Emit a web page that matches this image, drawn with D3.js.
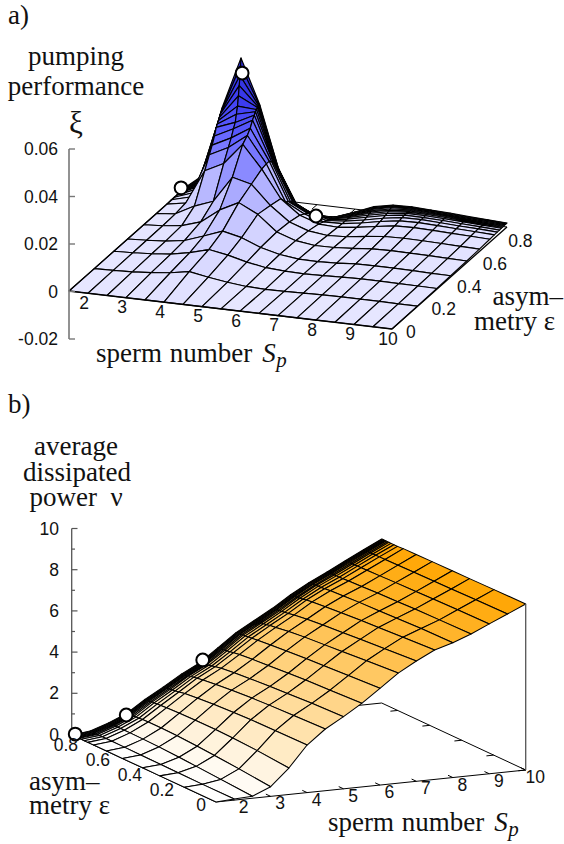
<!DOCTYPE html>
<html><head><meta charset="utf-8">
<script src="https://cdnjs.cloudflare.com/ajax/libs/d3/7.8.5/d3.min.js"></script>
<style>html,body{margin:0;padding:0;background:#fff}svg{display:block}text{white-space:pre}</style></head>
<body><svg id="c" width="564" height="844"></svg>
<script>
const spermValues=[1.5,2,2.5,3,3.5,4,4.5,5,5.5,6,6.5,7,7.5,8,8.5,9,9.5,10];
const asymValues=[0,.198,.351,.459,.585,.684,.765,.801,.8235,.8415,.855,.864,.873,.88,.8865,.892,.8964,.9];
const spTicks=[2,3,4,5,6,7,8,9,10];
const epsTicks=[0,.2,.4,.6,.8];
const xiTicks=[-.02,0,.02,.04,.06];
const xiTickLabels=['-0.02','0','0.02','0.04','0.06'];
const nuTicks=[0,2,4,6,8,10];
const nuMinor=[1,3,5,7,9];
const pumping=[
[0,0,0,0,0,0,0,0,0,0,0,0,0,0,0,0,0,0],
[0,.2,.5,1.1,2,3.4,2,.8,0,-.3,-.2,0,.2,.3,.3,.3,.2,.2],
[0,.3,.8,1.6,3.2,5.4,4,2,.6,.1,-.1,.1,.4,.6,.6,.5,.4,.3],
[0,.4,1,2.2,5,8,6.2,3,1,0,-.1,.2,.8,.9,.9,.8,.6,.5],
[0,.5,1.5,4,10,14,10,3.5,.8,-.3,-.2,.4,1.1,1.3,1.2,1.1,.9,.7],
[0,.8,5,8,19,17,9,3,.2,-.8,-.4,.7,1.6,1.8,1.7,1.5,1.2,1],
[.1,1.5,16,20,29,19.5,8,2,-.8,-1.2,-.3,1,2.2,2.4,2.2,1.9,1.6,1.3],
[.2,2.3,21,25,31,20,5,.8,-1.6,-1.4,-.2,1.4,2.6,2.8,2.5,2.1,1.8,1.4],
[.2,3,24,28,33,20,4,0,-2.1,-1.4,0,1.7,2.9,3,2.6,2.2,1.9,1.5],
[.2,3.5,27,31,35.5,19,3,-.8,-2.5,-1.4,.3,2,3.1,3,2.7,2.3,1.9,1.5],
[.2,4,30,33,37,18,2.5,-1.5,-2.8,-1.4,.5,2.2,3.2,3.1,2.8,2.4,2,1.6],
[.3,4.4,31,36,38,17,2,-2.2,-3,-1.3,.8,2.5,3.3,3.2,2.9,2.4,2,1.6],
[.3,4.8,32,39,38.5,16,1,-2.8,-3.3,-1.3,1,2.7,3.4,3.2,2.9,2.4,2,1.6],
[.3,5,33,43,39,15.5,.3,-3.3,-3.5,-1.3,1.2,2.9,3.5,3.3,2.9,2.5,2,1.7],
[.3,5.5,34,47,39,15,-.5,-3.8,-3.8,-1.2,1.5,3.2,3.6,3.3,3,2.5,2.1,1.7],
[.3,5.8,34.5,51,39,14,-1,-4.2,-3.9,-1.2,1.7,3.3,3.7,3.4,3,2.5,2.1,1.7],
[.3,6.2,35,55,39,13.3,-1.5,-4.6,-4.1,-1.2,1.9,3.5,3.8,3.4,3,2.5,2.1,1.7],
[.3,6.7,36,58,39,12.6,-2,-5,-4.2,-1.2,2,3.6,3.8,3.4,3,2.5,2.1,1.7]];
const power=[
[0,.05,.1,.47,1.29,2.32,3.01,3.52,4.08,4.72,5.37,5.87,6.31,6.57,6.91,7.31,7.7,8.1],
[0,.05,.2,.62,1.42,2.3,2.95,3.45,4,4.62,5.25,5.75,6.22,6.55,6.88,7.28,7.68,8.08],
[0,.06,.28,.72,1.48,2.28,2.9,3.38,3.94,4.55,5.15,5.65,6.14,6.5,6.85,7.25,7.65,8.06],
[0,.07,.33,.78,1.5,2.24,2.85,3.33,3.88,4.5,5.08,5.58,6.08,6.46,6.82,7.22,7.63,8.05],
[0,.08,.38,.83,1.5,2.18,2.78,3.25,3.8,4.42,5,5.5,6,6.42,6.78,7.2,7.61,8.04],
[0,.09,.4,.85,1.48,2.12,2.7,3.18,3.74,4.35,4.92,5.42,5.94,6.37,6.74,7.17,7.6,8.03],
[0,.09,.41,.85,1.45,2.05,2.62,3.1,3.68,4.28,4.82,5.33,5.88,6.33,6.72,7.15,7.58,8.02],
[0,.1,.41,.84,1.43,2,2.58,3.05,3.64,4.25,4.78,5.28,5.84,6.3,6.7,7.14,7.58,8],
[0,.1,.41,.82,1.42,1.97,2.54,3,3.6,4.23,4.74,5.25,5.8,6.28,6.69,7.14,7.58,8],
[0,.1,.41,.81,1.41,1.95,2.51,2.97,3.58,4.22,4.72,5.23,5.78,6.27,6.69,7.13,7.57,8],
[0,.1,.41,.8,1.4,1.93,2.49,2.95,3.56,4.21,4.71,5.21,5.76,6.26,6.68,7.13,7.57,8],
[0,.1,.41,.8,1.39,1.92,2.47,2.93,3.55,4.2,4.7,5.2,5.75,6.25,6.68,7.13,7.57,8],
[0,.1,.4,.79,1.38,1.91,2.46,2.92,3.54,4.19,4.69,5.19,5.75,6.25,6.68,7.13,7.57,8],
[0,.1,.4,.79,1.38,1.9,2.45,2.91,3.54,4.18,4.68,5.18,5.74,6.24,6.68,7.13,7.57,8],
[0,.1,.4,.78,1.37,1.89,2.44,2.9,3.53,4.18,4.68,5.18,5.74,6.24,6.67,7.12,7.57,8],
[0,.1,.4,.78,1.37,1.89,2.43,2.89,3.53,4.17,4.67,5.18,5.74,6.24,6.67,7.12,7.57,8],
[0,.1,.4,.78,1.37,1.88,2.42,2.88,3.52,4.17,4.67,5.17,5.74,6.24,6.67,7.12,7.57,8],
[0,.1,.4,.78,1.37,1.87,2.42,2.87,3.52,4.17,4.67,5.17,5.74,6.24,6.67,7.12,7.57,8]];
const pumpingMarks=[[1.5,.877,1.6],[3.03,.9,51.7],[5,.892,-4.4]];
const powerMarks=[[1.5,.88,.12],[2.9,.88,.79],[5,.88,3.09]];

const svg=d3.select('#c');
const SERIF='"Liberation Serif","Times New Roman",serif', SANS='"Liberation Sans",Arial,sans-serif';
function mk(o){
  const spx=d3.scaleLinear([1.5,10],[0,o.sx]), spy=d3.scaleLinear([1.5,10],[0,o.sy]);
  const ex=d3.scaleLinear([0,.9],[0,o.ex]), ey=d3.scaleLinear([0,.9],[0,o.ey]);
  const zy=d3.scaleLinear([0,o.zTop],[0,o.zPx]);
  return (s,e,z=0)=>[o.x0+spx(s)+ex(e), o.y0+spy(s)+ey(e)-zy(z)];
}
function surface(g,P,Z,color,spOrder,w){
  const cells=[];
  for(let r=Z.length-2;r>=0;r--) for(const c of spOrder) cells.push([r,c]);
  g.selectAll('path.cell').data(cells).join('path').attr('class','cell')
   .attr('d',([r,c])=>d3.line()([[c,r],[c+1,r],[c+1,r+1],[c,r+1]].map(([i,j])=>P(spermValues[i],asymValues[j],Z[j][i])))+'Z')
   .attr('fill',([r,c])=>color((Z[r][c]+Z[r][c+1]+Z[r+1][c]+Z[r+1][c+1])/4))
   .attr('stroke','#000').attr('stroke-width',w).attr('stroke-linejoin','round');
}
function seg(g,a,b,col='#000',w=1){g.append('line').attr('x1',a[0]).attr('y1',a[1]).attr('x2',b[0]).attr('y2',b[1]).attr('stroke',col).attr('stroke-width',w);}
function txt(s,x,y,size,fam,anchor='start'){return svg.append('text').attr('x',x).attr('y',y).attr('font-size',size).attr('font-family',fam).attr('text-anchor',anchor).attr('fill','#111').text(s);}
function spLabel(x,y){
  const t=txt('sperm number',x,y,27,SERIF).attr('word-spacing',1);
  const w=t.node().getComputedTextLength();
  txt('S',x+w+10,y,27,SERIF).attr('font-style','italic');
  txt('p',x+w+24,y+5,21,SERIF).attr('font-style','italic');
}
function marks(g,P,M){M.forEach(([s,e,z])=>{const p=P(s,e,z);g.append('circle').attr('cx',p[0]).attr('cy',p[1]).attr('r',6.4).attr('fill','#fff').attr('stroke','#000').attr('stroke-width',2);});}
const cols=d3.range(spermValues.length-1);

// panel a
const gA=svg.append('g');
const Pa=mk({x0:69,y0:291,sx:323,sy:38,ex:115,ey:-102,zTop:60,zPx:142.5});
const zA=d3.scaleLinear([-5,0,10,20,30,40,60],['#eeeeff','#e6e6ff','#c4c4ff','#9090ff','#5c5cff','#3c3cf0','#1818a8']);
seg(gA,Pa(1.5,.9),Pa(10,.9));
[5,6,7,8,9].forEach(s=>seg(gA,Pa(s,.9),Pa(s,.86)));
surface(gA,Pa,pumping,zA,cols,1.15);
seg(gA,Pa(1.5,0),Pa(10,0),'#000',1.3);
seg(gA,Pa(10,0),Pa(10,.9),'#000',1.3);
seg(gA,Pa(1.5,0),Pa(1.5,.9),'#000',1.2);
const zaxA=d3.scaleLinear([-.02,.06],[339,149]);
seg(gA,[69,zaxA(-.02)],[69,zaxA(.06)],'#777',1.6);
xiTicks.forEach((t,i)=>{seg(gA,[69,zaxA(t)],[75,zaxA(t)],'#777',1.4);
  txt(xiTickLabels[i],58,zaxA(t)+6,17.5,SANS,'end');});
spTicks.forEach(s=>{const p=Pa(s,0);txt(s,p[0]-4,p[1]+15.5,17.5,SANS,'middle');});
epsTicks.forEach(e=>{const p=Pa(10,e);txt(e,p[0]+14,p[1]+9,17.5,SANS,'start');});
marks(gA,Pa,pumpingMarks);
txt('a)',8,24,27,SERIF);
txt('pumping',76,65,27,SERIF,'middle');
txt('performance',76,95,27,SERIF,'middle');
txt('ξ',76,133,31,SERIF,'middle');
spLabel(96,362);
txt('asym–',563,305,27,SERIF,'end');
txt('metry ε',555,330,27,SERIF,'end');

// panel b
const gB=svg.append('g');
const Pb=mk({x0:216,y0:802,sx:309.7,sy:-32,ex:-144,ey:-67,zTop:10,zPx:205});
const zB=d3.scaleLinear([0,8.1],['#ffffff','#ffa500']);
seg(gB,Pb(1.5,.9),Pb(10,.9));
seg(gB,Pb(10,0),Pb(10,.9));
seg(gB,Pb(1.5,0),Pb(10,0));
seg(gB,Pb(1.5,0),Pb(1.5,.9));
spTicks.forEach(s=>seg(gB,Pb(s,0),Pb(s,.03)));
epsTicks.forEach(e=>seg(gB,Pb(10,e),Pb(9.8,e)));
surface(gB,Pb,power,zB,cols.slice().reverse(),1.05);
const zaxB=d3.scaleLinear([0,10],[734.5,528.5]);
seg(gB,[71.7,zaxB(0)],[71.7,zaxB(10)],'#555',1.3);
nuTicks.forEach(t=>{seg(gB,[71.7,zaxB(t)],[77.5,zaxB(t)],'#555',1.2);txt(t,59,zaxB(t)+6,17.5,SANS,'end');});
nuMinor.forEach(t=>seg(gB,[71.7,zaxB(t)],[75,zaxB(t)],'#555',1.2));
seg(gB,Pb(10,0),Pb(10,0,8.1),'#555',1.3);
spTicks.forEach(s=>{const p=Pb(s,0);txt(s,p[0]+9.5,p[1]+13,17.5,SANS,'middle');});
epsTicks.forEach(e=>{const p=Pb(1.5,e);txt(e,p[0]-10,p[1]+9,17.5,SANS,'end');});
marks(gB,Pb,powerMarks);
txt('b)',8,413,27,SERIF);
txt('average',76,455,27,SERIF,'middle');
txt('dissipated',77,481,27,SERIF,'middle');
txt('power  ν',76,506,27,SERIF,'middle');
txt('asym–',29,790,27,SERIF);
txt('metry ε',29,814,27,SERIF);
spLabel(328,831);
</script></body></html>
